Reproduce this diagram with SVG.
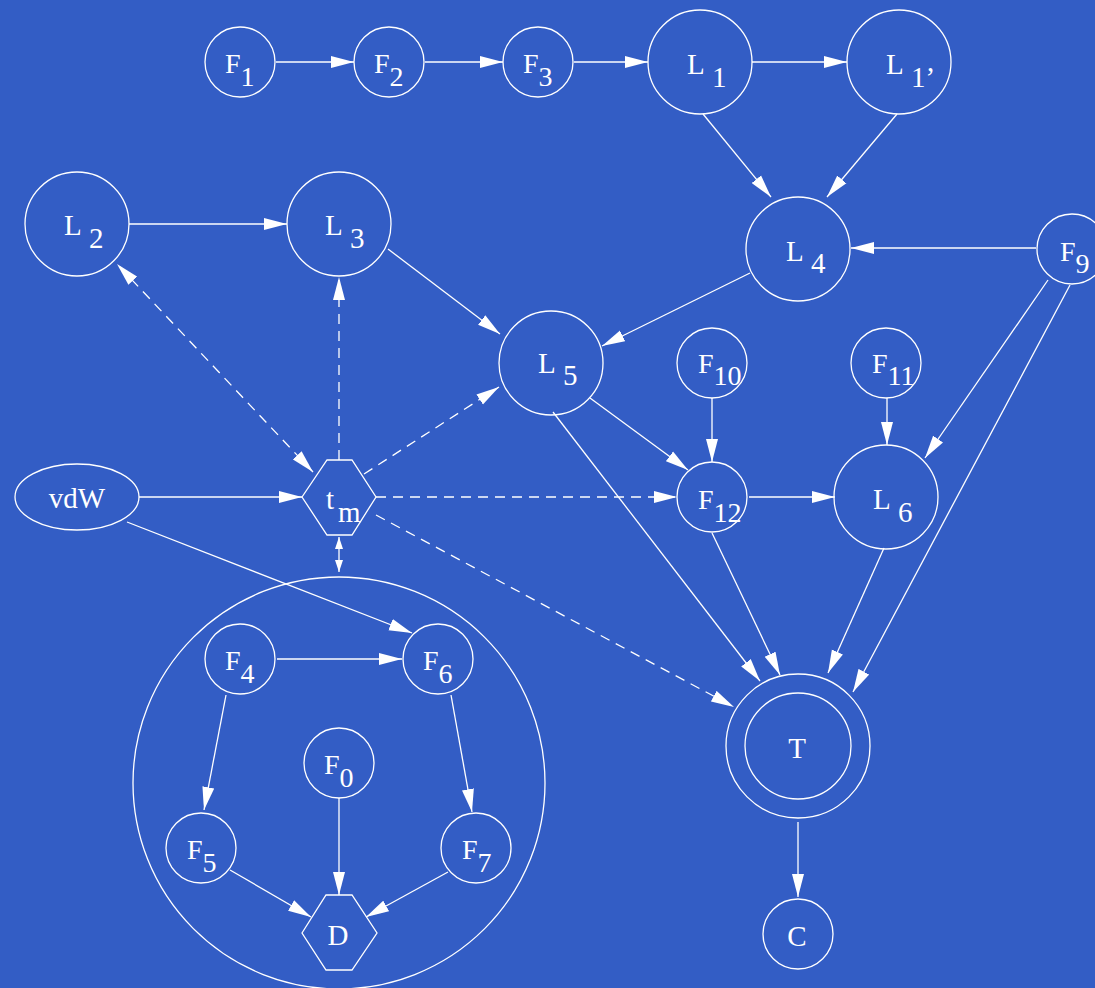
<svg xmlns="http://www.w3.org/2000/svg" width="1095" height="988" viewBox="0 0 1095 988">
<style>
.n{fill:none;stroke:#fff;stroke-width:1.3}
.e{fill:none;stroke:#fff;stroke-width:1.3}
.d{stroke-dasharray:10 7}
.t{fill:#fff;font-family:"Liberation Serif","Times New Roman",serif;font-size:28px}
.tl{fill:#fff;font-family:"Liberation Serif","Times New Roman",serif;font-size:29px}
.c{text-anchor:middle}
</style>
<defs>
<marker id="ah" markerWidth="23" markerHeight="13" refX="23" refY="6.5" orient="auto-start-reverse" markerUnits="userSpaceOnUse"><path d="M0,0.5 L23,6.5 L0,12.5 z" fill="#fff"/></marker>
<marker id="as" markerWidth="12" markerHeight="8" refX="12" refY="4" orient="auto-start-reverse" markerUnits="userSpaceOnUse"><path d="M0,0 L12,4 L0,8 z" fill="#fff"/></marker>
</defs>
<rect width="1095" height="988" fill="#335dc5"/>
<g id="connectors">
<line class="e" x1="276" y1="62" x2="354" y2="62" marker-end="url(#ah)"/>
<line class="e" x1="425" y1="62" x2="503" y2="62" marker-end="url(#ah)"/>
<line class="e" x1="574" y1="62" x2="648" y2="62" marker-end="url(#ah)"/>
<line class="e" x1="752" y1="62" x2="847" y2="62" marker-end="url(#ah)"/>
<line class="e" x1="703" y1="114" x2="771" y2="197" marker-end="url(#ah)"/>
<line class="e" x1="897" y1="114" x2="827" y2="197" marker-end="url(#ah)"/>
<line class="e" x1="1036" y1="248" x2="851" y2="248" marker-end="url(#ah)"/>
<line class="e" x1="129" y1="224" x2="287" y2="224" marker-end="url(#ah)"/>
<line class="e" x1="388" y1="249" x2="500" y2="334" marker-end="url(#ah)"/>
<line class="e" x1="750" y1="273" x2="602" y2="346" marker-end="url(#ah)"/>
<line class="e" x1="590" y1="398" x2="688" y2="470" marker-end="url(#ah)"/>
<line class="e" x1="553" y1="412" x2="760" y2="681" marker-end="url(#ah)"/>
<line class="e" x1="712" y1="398" x2="712" y2="462" marker-end="url(#ah)"/>
<line class="e" x1="887" y1="398" x2="887" y2="445" marker-end="url(#ah)"/>
<line class="e" x1="1048" y1="280" x2="925" y2="458" marker-end="url(#ah)"/>
<line class="e" x1="1070" y1="285" x2="853" y2="692" marker-end="url(#ah)"/>
<line class="e" x1="749" y1="497" x2="835" y2="497" marker-end="url(#ah)"/>
<line class="e" x1="712" y1="533" x2="780" y2="675" marker-end="url(#ah)"/>
<line class="e" x1="884" y1="548" x2="828" y2="673" marker-end="url(#ah)"/>
<line class="e" x1="798" y1="822" x2="798" y2="897" marker-end="url(#ah)"/>
<line class="e" x1="139" y1="497" x2="302" y2="497" marker-end="url(#ah)"/>
<line class="e" x1="127" y1="522" x2="412" y2="633" marker-end="url(#ah)"/>
<line class="e d" x1="313" y1="472" x2="117" y2="264" marker-start="url(#ah)" marker-end="url(#ah)"/>
<line class="e d" x1="339" y1="460" x2="339" y2="277" marker-end="url(#ah)"/>
<line class="e d" x1="364" y1="474" x2="499" y2="387" marker-end="url(#ah)"/>
<line class="e d" x1="376" y1="497" x2="677" y2="497" marker-end="url(#ah)"/>
<line class="e d" x1="376" y1="515" x2="734" y2="707" marker-end="url(#ah)"/>
<line class="e" x1="339" y1="537" x2="339" y2="572" marker-start="url(#as)" marker-end="url(#as)"/>
<line class="e" x1="277" y1="659" x2="402" y2="659" marker-end="url(#ah)"/>
<line class="e" x1="226" y1="695" x2="204" y2="810" marker-end="url(#ah)"/>
<line class="e" x1="451" y1="695" x2="472" y2="812" marker-end="url(#ah)"/>
<line class="e" x1="339" y1="798" x2="339" y2="895" marker-end="url(#ah)"/>
<line class="e" x1="230" y1="870" x2="311" y2="917" marker-end="url(#ah)"/>
<line class="e" x1="448" y1="872" x2="366" y2="917" marker-end="url(#ah)"/>
</g>
<g id="cluster"><circle class="n" cx="339" cy="783" r="206"/></g>
<g id="F1"><circle class="n" cx="240" cy="62" r="35"/><text class="t" x="225" y="73">F<tspan dy="13">1</tspan></text></g>
<g id="F2"><circle class="n" cx="389" cy="62" r="35"/><text class="t" x="374" y="73">F<tspan dy="13">2</tspan></text></g>
<g id="F3"><circle class="n" cx="538" cy="62" r="35"/><text class="t" x="523" y="73">F<tspan dy="13">3</tspan></text></g>
<g id="L1"><circle class="n" cx="700" cy="62" r="52"/><text class="tl" x="687" y="74">L<tspan x="712" dy="13">1</tspan></text></g>
<g id="L1p"><circle class="n" cx="899" cy="62" r="52"/><text class="tl" x="886" y="74">L<tspan x="911" dy="13">1’</tspan></text></g>
<g id="L2"><circle class="n" cx="77" cy="224" r="52"/><text class="tl" x="64" y="235">L<tspan x="89" dy="13">2</tspan></text></g>
<g id="L3"><circle class="n" cx="339" cy="224" r="52"/><text class="tl" x="325" y="235">L<tspan x="350" dy="13">3</tspan></text></g>
<g id="L4"><circle class="n" cx="798" cy="249" r="52"/><text class="tl" x="786" y="261">L<tspan x="811" dy="12">4</tspan></text></g>
<g id="F9"><circle class="n" cx="1072" cy="249" r="35"/><text class="t" x="1060" y="261">F<tspan dy="12">9</tspan></text></g>
<g id="L5"><circle class="n" cx="551" cy="363" r="52"/><text class="tl" x="538" y="373">L<tspan x="563" dy="12">5</tspan></text></g>
<g id="F10"><circle class="n" cx="712" cy="363" r="35"/><text class="t" x="698" y="373">F<tspan dy="12">10</tspan></text></g>
<g id="F11"><circle class="n" cx="886" cy="363" r="35"/><text class="t" x="872" y="373">F<tspan dy="12">11</tspan></text></g>
<g id="vdW"><ellipse class="n" cx="77" cy="497" rx="62" ry="33"/><text class="tl c" x="77" y="508">vdW</text></g>
<g id="tm"><polygon class="n" points="302,497 327,460 352,460 376,497 352,535 327,535"/><text class="tl" x="326" y="509">t<tspan x="338" dy="13">m</tspan></text></g>
<g id="F12"><circle class="n" cx="712" cy="497" r="35"/><text class="t" x="698" y="509">F<tspan dy="13">12</tspan></text></g>
<g id="L6"><circle class="n" cx="886" cy="497" r="52"/><text class="tl" x="873" y="509">L<tspan x="898" dy="13">6</tspan></text></g>
<g id="T"><circle class="n" cx="798" cy="746" r="72"/><circle class="n" cx="798" cy="746" r="53"/><text class="tl c" x="797" y="758">T</text></g>
<g id="C"><circle class="n" cx="798" cy="934" r="35"/><text class="tl c" x="797" y="946">C</text></g>
<g id="F4"><circle class="n" cx="240" cy="659" r="35"/><text class="t" x="225" y="670">F<tspan dy="13">4</tspan></text></g>
<g id="F6"><circle class="n" cx="438" cy="659" r="35"/><text class="t" x="423" y="670">F<tspan dy="13">6</tspan></text></g>
<g id="F0"><circle class="n" cx="339" cy="763" r="35"/><text class="t" x="324" y="774">F<tspan dy="13">0</tspan></text></g>
<g id="F5"><circle class="n" cx="201" cy="848" r="35"/><text class="t" x="187" y="859">F<tspan dy="13">5</tspan></text></g>
<g id="F7"><circle class="n" cx="476" cy="848" r="35"/><text class="t" x="462" y="859">F<tspan dy="13">7</tspan></text></g>
<g id="D"><polygon class="n" points="302,933 326,895 352,895 377,933 352,970 326,970"/><text class="tl c" x="338" y="945">D</text></g>
</svg>
